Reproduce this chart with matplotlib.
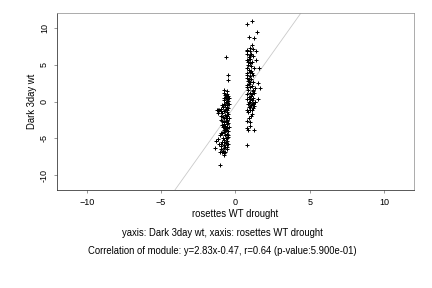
import numpy as np
import matplotlib
matplotlib.use("Agg")
import matplotlib.pyplot as plt

plt.rcParams['font.family'] = ['Liberation Sans', 'DejaVu Sans']

# cluster on the left (x < 0)
xa = [-0.62, -0.49, -0.49, -1.04,
      -0.75, -0.6, -0.8, -0.55, -0.7, -0.5, -0.65, -0.45, -0.6, -0.75, -0.5, -0.65,
      -0.55, -0.8, -0.45, -0.7, -0.6, -0.85, -0.5, -0.95, -1.2, -1.1, -1.25, -1.0,
      -0.75, -0.6, -1.15, -0.9, -0.5, -0.7, -1.0, -0.6, -0.85, -0.45, -0.75, -0.55,
      -0.9, -0.65, -0.5, -0.8, -0.6, -0.7, -0.45, -0.85, -0.55, -0.65, -0.5, -0.75,
      -1.0, -0.9, -0.6, -1.05, -0.7, -0.5, -0.85, -0.6, -1.2, -0.75, -0.55, -1.3,
      -0.9, -0.65, -1.1, -0.5, -0.8, -1.0, -0.6, -1.35, -0.75, -0.95, -0.55, -0.85,
      -1.05, -0.7, -0.8, -0.75,
      -0.6, -0.65, -0.55, -0.6, -0.7, -0.65, -0.8, -0.7, -0.9, -0.55, -0.75, -0.6,
      -0.95, -0.7, -0.9, -0.5, -0.65, -0.8, -0.9, -1.0, -0.55, -0.8, -0.6, -0.7]
ya = [6.0, 3.65, 2.85, -8.6,
      1.5, 1.4, 1.2, 1.0, 0.9, 0.8, 0.6, 0.5, 0.3, 0.2, 0.1, 0.0,
      -0.2, -0.3, -0.4, -0.5, -0.7, -0.8, -0.9, -1.0, -1.1, -1.2, -1.2, -1.3,
      -1.3, -1.4, -1.5, -1.6, -1.7, -1.8, -1.9, -2.0, -2.1, -2.2, -2.3, -2.5,
      -2.6, -2.7, -2.9, -3.0, -3.1, -3.3, -3.4, -3.5, -3.6, -3.8, -4.0, -4.1,
      -4.2, -4.3, -4.4, -4.5, -4.6, -4.8, -4.9, -5.0, -5.1, -5.2, -5.3, -5.4,
      -5.5, -5.6, -5.7, -5.8, -5.9, -6.0, -6.1, -6.3, -6.3, -6.5, -6.5, -6.7,
      -6.8, -6.9, -7.0, -7.3,
      -0.5, -1.0, -3.0, -3.5, -4.0, -2.2, -2.8, -1.1, -0.5, 0.4, -5.5, -5.7,
      -5.8, -6.2, -6.9, -4.5, -4.9, -3.8, -3.2, -2.5, -1.2, 0.5, -2.6, -3.6]

# cluster on the right (x > 0)
xb = [0.78, 1.11, 1.42, 0.91, 1.27, 0.8, 1.22, 1.51, 1.62, 1.49, 1.58, 1.35, 1.35,
      1.1, 1.0, 1.15, 0.8, 0.95, 1.05, 0.75, 1.2, 0.9, 1.0, 0.8, 1.1, 0.95, 0.85,
      1.05, 0.75, 1.25, 0.9, 1.0, 0.8, 1.15, 0.95, 0.75, 1.05, 0.85, 1.2, 0.9, 0.75,
      1.1, 1.0, 1.3, 0.85, 1.15, 0.95, 1.25, 0.8, 1.05, 0.9, 1.2, 0.8, 1.1, 0.95,
      1.3, 1.15, 0.85, 1.05, 1.25, 0.9, 1.15, 0.8, 1.0, 0.85, 1.1, 1.05, 0.9, 0.8,
      0.95, 1.0, 0.8, 0.85,
      0.8, 0.85, 0.9, 1.0, 1.1, 1.0, 0.9, 1.2, 1.0, 0.9, 1.05, 0.8, 1.2, 0.95,
      1.1, 1.3, 1.1, 0.75]
yb = [10.5, 10.95, 9.46, 8.8, 8.56, -5.95, -3.9, 2.5, 1.8, 0.4, 4.5, 5.6, 6.9,
      7.7, 7.3, 7.1, 7.0, 6.9, 6.5, 6.4, 6.2, 6.0, 5.8, 5.6, 5.4, 5.2, 5.0,
      4.8, 4.6, 4.5, 4.3, 4.0, 3.8, 3.6, 3.4, 3.2, 3.0, 2.8, 2.6, 2.4, 2.2,
      2.1, 1.9, 1.8, 1.6, 1.4, 1.2, 1.1, 1.0, 0.8, 0.6, 0.5, 0.4, 0.2, 0.0,
      0.0, -0.2, -0.3, -0.5, -0.6, -0.8, -0.9, -1.1, -1.2, -1.4, -1.7, -2.0, -2.3, -2.6,
      -2.8, -3.3, -3.6, -3.9,
      6.8, 5.4, 3.0, 2.6, 1.0, 0.4, -0.1, -0.3, -0.8, 5.8, 4.2, 2.0, 1.5, 6.3,
      3.9, -0.1, -1.1, 3.6]

slope = 2.83
intercept = -0.47

fig = plt.figure(figsize=(6, 4), dpi=72)
ax = fig.add_axes([0.132, 0.340, 0.826, 0.615])

xs = np.array([-12, 12])
ax.plot(xs, slope * xs + intercept, color="#c8c8c8", lw=0.8, zorder=1)
ax.scatter(xa + xb, ya + yb, marker="+", s=22, color="black", linewidths=1.0, zorder=2)

ax.set_xlim(-12, 12)
ax.set_ylim(-12, 12)
ax.set_xticks([-10, -5, 0, 5, 10])
ax.set_yticks([-10, -5, 0, 5, 10])
ax.set_yticklabels(["-10", "-5", "0", "5", "10"], rotation=90, va="center")
ax.tick_params(labelsize=9, length=3, width=0.6, pad=5, colors="#555555", labelcolor="black")

for side in ["top", "right"]:
    ax.spines[side].set_color("#999999")
for side in ["left", "bottom"]:
    ax.spines[side].set_color("#333333")
for s in ax.spines.values():
    s.set_linewidth(0.8)

ax.set_xlabel("rosettes WT drought", fontsize=9.5, labelpad=2)
ax.set_ylabel("Dark 3day wt", fontsize=9.5, labelpad=3)

fig.text(0.515, 0.190, "yaxis: Dark 3day wt, xaxis: rosettes WT drought", ha="center", va="center", fontsize=9.5)
fig.text(0.515, 0.130, "Correlation of module: y=2.83x-0.47, r=0.64 (p-value:5.900e-01)", ha="center", va="center", fontsize=9.5)

fig.savefig("out.png", dpi=72)
